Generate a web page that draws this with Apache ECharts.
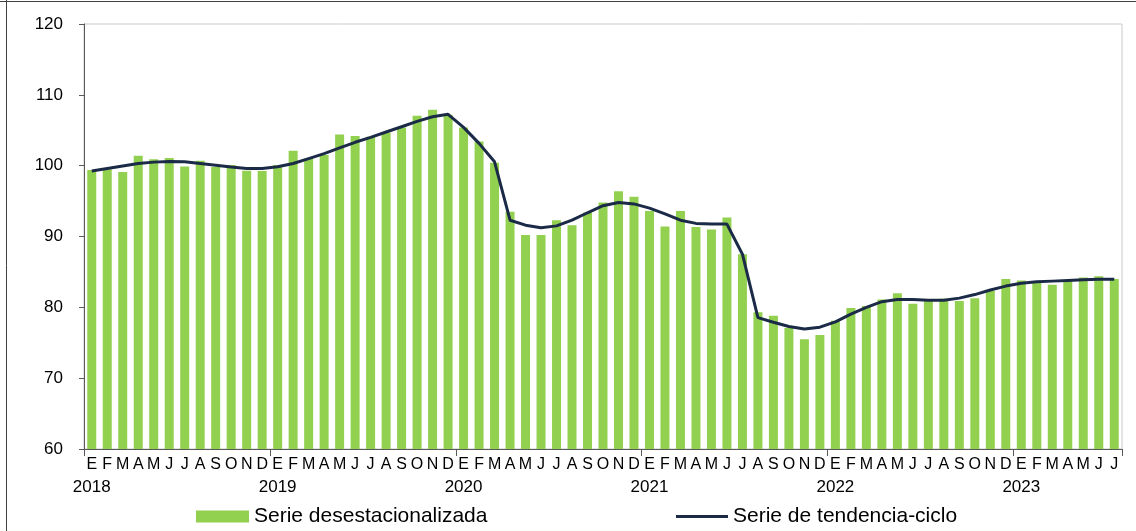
<!DOCTYPE html>
<html>
<head>
<meta charset="utf-8">
<script src="https://cdn.jsdelivr.net/npm/echarts@6/dist/echarts.min.js"></script>
<style>
html,body{margin:0;padding:0;background:#fff;}
#chart{width:1136px;height:531px;}
</style>
</head>
<body>
<div id="chart"></div>
<script>
const monthLetters = ['E','F','M','A','M','J','J','A','S','O','N','D'];
const years = ['2018','2019','2020','2021','2022','2023'];
const monthsInLastYear = 7;

const serieDesestacionalizada = [
  99.4, 99.5, 99.1, 101.4, 100.9, 101.1, 99.9, 100.7, 99.8, 100.1, 99.3, 99.25,
  100.1, 102.1, 101.0, 101.5, 104.4, 104.2, 104.1, 104.7, 105.4, 107.05, 107.9, 107.2,
  105.4, 103.4, 100.4, 93.5, 90.2, 90.2, 92.3, 91.6, 93.4, 94.8, 96.4, 95.6,
  93.6, 91.4, 93.6, 91.35, 91.0, 92.7, 87.5, 79.3, 78.8, 77.1, 75.5, 76.1,
  78.1, 79.9, 80.2, 81.1, 82.0, 80.5, 80.9, 81.2, 80.9, 81.3, 82.3, 84.0,
  83.8, 83.6, 83.2, 83.7, 84.2, 84.4, 84.0
];

const serieTendenciaCiclo = [
  99.25, 99.6, 99.95, 100.3, 100.5, 100.6, 100.55, 100.3, 100.05, 99.8, 99.6, 99.6,
  99.85, 100.3, 101.0, 101.7, 102.5, 103.3, 104.0, 104.75, 105.5, 106.25, 106.9, 107.25,
  105.4, 103.15, 100.55, 92.3, 91.6, 91.25, 91.5, 92.3, 93.35, 94.35, 94.8, 94.6,
  94.0, 93.2, 92.3, 91.85, 91.75, 91.75, 87.5, 78.55, 77.9, 77.3, 76.95, 77.2,
  77.95, 79.05, 80.0, 80.8, 81.1, 81.1, 81.0, 81.0, 81.3, 81.8, 82.45, 83.0,
  83.4, 83.6, 83.7, 83.8, 83.9, 83.95, 83.95
];

const yTicks = { min: 60, max: 120, interval: 10 };

const categories = [];
years.forEach((y, yi) => {
  const n = (yi === years.length - 1) ? monthsInLastYear : 12;
  for (let m = 0; m < n; m++) categories.push({ month: monthLetters[m], year: m === 0 ? y : '' });
});
const catKeys = categories.map((c, i) => String(i));

const FONT = '"Liberation Sans", Arial, sans-serif';
const chart = echarts.init(document.getElementById('chart'), null, { renderer: 'canvas' });

chart.setOption({
  animation: false,
  backgroundColor: '#ffffff',
  textStyle: { fontFamily: FONT },
  grid: {
    left: 84, right: 14, top: 24, bottom: 82,
    show: true, borderColor: '#c9c9c9', borderWidth: 1
  },
  legend: [
    {
      left: 191, top: 501,
      itemWidth: 53, itemHeight: 12, itemGap: 0,
      data: [{ name: 'Serie desestacionalizada', icon: 'rect' }],
      textStyle: { fontFamily: FONT, fontSize: 21, color: '#000' },
      selectedMode: false
    },
    {
      left: 671, top: 501,
      itemWidth: 52, itemHeight: 3, itemGap: 0,
      data: [{ name: 'Serie de tendencia-ciclo', icon: 'rect', itemStyle: { color: '#1b2a47' } }],
      textStyle: { fontFamily: FONT, fontSize: 21, color: '#000' },
      selectedMode: false
    }
  ],
  xAxis: {
    type: 'category',
    data: catKeys,
    boundaryGap: true,
    axisLine: { show: true, lineStyle: { color: '#595959', width: 1 } },
    axisTick: {
      show: true,
      alignWithLabel: false,
      interval: (idx) => idx % 12 === 0,
      length: 7,
      lineStyle: { color: '#595959' }
    },
    axisLabel: {
      interval: 0,
      margin: 5,
      color: '#000',
      formatter: (val) => {
        const c = categories[Number(val)];
        return c.year ? '{m|' + c.month + '}\n{y|' + c.year + '}' : '{m|' + c.month + '}';
      },
      rich: {
        m: { fontFamily: FONT, fontSize: 16, lineHeight: 22, color: '#000' },
        y: { fontFamily: FONT, fontSize: 17, lineHeight: 22, color: '#000' }
      }
    },
    splitLine: { show: false }
  },
  yAxis: {
    type: 'value',
    min: yTicks.min, max: yTicks.max, interval: yTicks.interval,
    axisLine: { show: true, lineStyle: { color: '#595959', width: 1 } },
    axisTick: { show: true, length: 5, lineStyle: { color: '#595959' } },
    axisLabel: { margin: 21, color: '#000', fontFamily: FONT, fontSize: 17 },
    splitLine: { show: false }
  },
  graphic: [
    { type: 'line', shape: { x1: 6.5, y1: 0, x2: 6.5, y2: 531 }, style: { stroke: '#404040', lineWidth: 1 }, silent: true },
    { type: 'line', shape: { x1: 0, y1: 1.5, x2: 1136, y2: 1.5 }, style: { stroke: '#404040', lineWidth: 1 }, silent: true }
  ],
  series: [
    {
      name: 'Serie desestacionalizada',
      type: 'bar',
      data: serieDesestacionalizada,
      barCategoryGap: '42%',
      itemStyle: { color: '#92d050' }
    },
    {
      name: 'Serie de tendencia-ciclo',
      type: 'line',
      data: serieTendenciaCiclo,
      symbol: 'none',
      smooth: false,
      lineStyle: { color: '#1b2a47', width: 3 },
      itemStyle: { color: '#1b2a47' }
    }
  ]
});
</script>
</body>
</html>
